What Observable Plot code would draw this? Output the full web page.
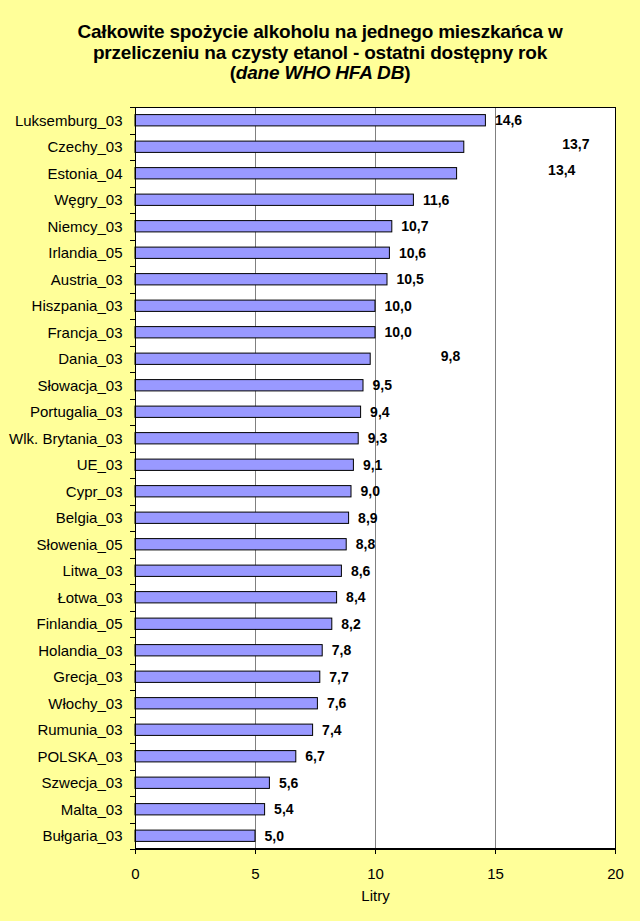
<!DOCTYPE html>
<html>
<head>
<meta charset="utf-8">
<script src="https://cdn.jsdelivr.net/npm/d3@7"></script>
<script src="https://cdn.jsdelivr.net/npm/@observablehq/plot@0.6"></script>
<style>
  html, body { margin: 0; padding: 0; background: #FFFF99; width: 640px; height: 921px; overflow: hidden; }
  #title { box-sizing: border-box; height: 100px; padding-top: 22px; text-align: center;
           font: bold 19px "Liberation Sans", Arial, sans-serif; line-height: 20.5px; color: #000;
           letter-spacing: -0.2px; }
  #chart svg { display: block; }
</style>
</head>
<body>
<div id="title">Całkowite spożycie alkoholu na jednego mieszkańca w<br>przeliczeniu na czysty etanol - ostatni dostępny rok<br>(<i>dane WHO HFA DB</i>)</div>
<div id="chart"></div>
<script>
const categories = ["Luksemburg_03","Czechy_03","Estonia_04","Węgry_03","Niemcy_03","Irlandia_05","Austria_03","Hiszpania_03","Francja_03","Dania_03","Słowacja_03","Portugalia_03","Wlk. Brytania_03","UE_03","Cypr_03","Belgia_03","Słowenia_05","Litwa_03","Łotwa_03","Finlandia_05","Holandia_03","Grecja_03","Włochy_03","Rumunia_03","POLSKA_03","Szwecja_03","Malta_03","Bułgaria_03"];
const values = [14.6,13.7,13.4,11.6,10.7,10.6,10.5,10.0,10.0,9.8,9.5,9.4,9.3,9.1,9.0,8.9,8.8,8.6,8.4,8.2,7.8,7.7,7.6,7.4,6.7,5.6,5.4,5.0];
const xTicks = [0,5,10,15,20];
const xLabel = "Litry";

const data = categories.map((name, i) => ({name, value: values[i]}));
const fmt = v => v.toFixed(1).replace(".", ",");

// labels that were dragged away from the bar end in the original
const nudged = {"Czechy_03": 98, "Estonia_04": 91, "Dania_03": 70};

const W = 640, H = 821;
const mT = 7, mB = 72, mL = 135, mR = 25;

function boundaryTicks(index, scales, vals, dims) {
  const g = d3.create("svg:g");
  const n = categories.length;
  const top = dims.marginTop, bottom = dims.height - dims.marginBottom;
  const y = scales.y;
  for (let i = 0; i <= n; i++) {
    const yy = i < n ? y(categories[i]) : bottom;
    g.append("line").attr("x1", dims.marginLeft - 5).attr("x2", dims.marginLeft)
      .attr("y1", Math.round(yy) + 0.5).attr("y2", Math.round(yy) + 0.5)
      .attr("stroke", "#000");
  }
  g.append("line").attr("x1", dims.marginLeft).attr("x2", dims.width - dims.marginRight)
    .attr("y1", bottom).attr("y2", bottom).attr("stroke", "#000").attr("stroke-width", 2);
  g.append("line").attr("x1", dims.marginLeft + 0.5).attr("x2", dims.marginLeft + 0.5)
    .attr("y1", top).attr("y2", bottom).attr("stroke", "#000");
  return g.node();
}

const chart = Plot.plot({
  width: W, height: H,
  marginTop: mT, marginBottom: mB, marginLeft: mL, marginRight: mR,
  style: {background: "transparent", fontFamily: "'Liberation Sans', Arial, sans-serif", fontSize: "15px", color: "#000"},
  x: {domain: [0, 20], ticks: xTicks},
  y: {domain: categories, padding: 0, round: false},
  marks: [
    Plot.frame({fill: "white", stroke: null}),
    Plot.ruleX(xTicks.slice(1), {stroke: "#808080", strokeWidth: 1}),
    Plot.barX(data, {x: "value", y: "name", fill: "#9999FF", stroke: "#000", strokeWidth: 1,
      insetTop: 7.6, insetBottom: 7.6}),
    Plot.text(data.filter(d => !(d.name in nudged)), {x: "value", y: "name", text: d => fmt(d.value),
      textAnchor: "start", dx: 9, fontWeight: "bold", fontSize: 14, fill: "#000"}),
    ...Object.entries(nudged).map(([name, dx]) =>
      Plot.text(data.filter(d => d.name === name), {x: "value", y: "name", text: d => fmt(d.value),
        textAnchor: "start", dx, dy: -3, fontWeight: "bold", fontSize: 14, fill: "#000"})),
    Plot.frame({stroke: "#000", strokeWidth: 1}),
    Plot.axisX({ticks: xTicks, tickSize: 5, tickPadding: 14, fontSize: 15, label: xLabel,
      labelAnchor: "center", labelArrow: "none", labelOffset: 51}),
    Plot.axisY({tickSize: 0, tickPadding: 13, fontSize: 15, label: null}),
    boundaryTicks
  ]
});
document.getElementById("chart").appendChild(chart);
</script>
</body>
</html>
